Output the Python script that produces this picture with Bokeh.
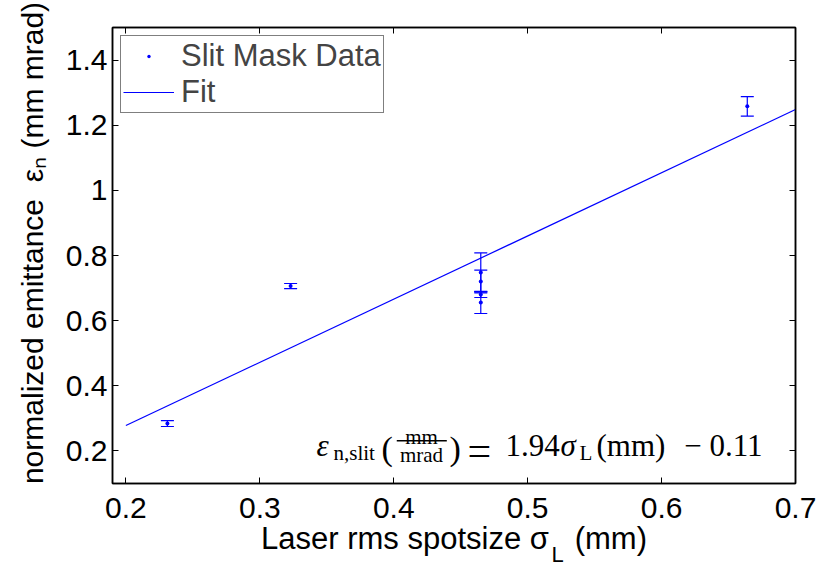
from bokeh.plotting import figure
from bokeh.models import (ColumnDataSource, Whisker, TeeHead, Label, BoxAnnotation,
                          LinearAxis, FixedTicker, Range1d, Legend, LegendItem)
from bokeh.embed import file_html
from bokeh.resources import INLINE

# ---- data ----
spot_size = [0.231, 0.323, 0.465, 0.465, 0.465, 0.465, 0.664]
emittance = [0.284, 0.706, 0.748, 0.720, 0.680, 0.656, 1.258]
emit_err = [0.009, 0.008, 0.060, 0.035, 0.009, 0.034, 0.030]

fit_x = [0.2, 0.7]
fit_y = [0.278, 1.248]

x_ticks = [0.2, 0.3, 0.4, 0.5, 0.6, 0.7]
x_tick_labels = ["0.2", "0.3", "0.4", "0.5", "0.6", "0.7"]
y_ticks = [0.2, 0.4, 0.6, 0.8, 1.0, 1.2, 1.4]
y_tick_labels = ["0.2", "0.4", "0.6", "0.8", "1", "1.2", "1.4"]

W, H = 818, 565
FL, FR, FT, FB = 112, 795, 27, 483   # frame edges in canvas px

SANS = "Liberation Sans"
SERIF = "Liberation Serif"
BLUE = "#0000ff"
NB = "\u00a0"

p = figure(width=W, height=H, output_backend="svg", toolbar_location=None,
           x_range=Range1d(0.19, 0.7), y_range=Range1d(0.1, 1.5),
           min_border_left=FL, min_border_right=W - FR,
           min_border_top=FT, min_border_bottom=H - FB)
p.background_fill_color = "white"
p.border_fill_color = "white"
p.outline_line_color = "black"
p.outline_line_width = 1.5
p.grid.visible = False

src = ColumnDataSource(dict(
    x=spot_size, y=emittance,
    upper=[v + e for v, e in zip(emittance, emit_err)],
    lower=[v - e for v, e in zip(emittance, emit_err)],
))

fit_r = p.line(fit_x, fit_y, line_color=BLUE, line_width=1.2)
wh = Whisker(source=src, base="x", upper="upper", lower="lower", dimension="height",
             line_color=BLUE, line_width=1.2,
             upper_head=TeeHead(size=13, line_color=BLUE, line_width=1.2),
             lower_head=TeeHead(size=13, line_color=BLUE, line_width=1.2))
p.add_layout(wh)
pts = p.scatter("x", "y", source=src, size=16, marker="dot", color=BLUE)


def style_axis(ax, ticks, labels, show_labels=True):
    ax.ticker = FixedTicker(ticks=ticks)
    ax.major_tick_in = 6
    ax.major_tick_out = 0
    ax.minor_tick_in = 0
    ax.minor_tick_out = 0
    ax.axis_line_color = "black"
    ax.axis_line_width = 1.5
    ax.major_tick_line_color = "black"
    ax.major_tick_line_width = 1
    ax.major_label_text_font = SANS
    if show_labels:
        ax.major_label_overrides = {t: l for t, l in zip(ticks, labels)}
        ax.major_label_text_font_size = "30px"
        ax.major_label_text_color = "black"
    else:
        ax.major_label_overrides = {t: "" for t in ticks}
        ax.major_label_text_font_size = "1px"
        ax.major_label_text_color = None
        ax.major_label_standoff = 0
    ax.axis_label_text_font = SANS
    ax.axis_label_text_font_style = "normal"
    ax.axis_label_text_color = "black"
    ax.axis_label_text_font_size = "30px"


style_axis(p.xaxis[0], x_ticks, x_tick_labels)
p.xaxis[0].major_label_standoff = 14
p.xaxis[0].axis_label = "Laser rms spotsize σ" + NB * 3 + "(mm)"
p.xaxis[0].axis_label_text_font_size = "31px"
p.xaxis[0].axis_label_standoff = 0

style_axis(p.yaxis[0], y_ticks, y_tick_labels)
p.yaxis[0].major_label_standoff = 5
p.yaxis[0].axis_label = NB * 3 + "normalized emittance" + NB + " εₙ (mm mrad)"
p.yaxis[0].axis_label_standoff = 14

top_ax = LinearAxis()
style_axis(top_ax, x_ticks, x_tick_labels, show_labels=False)
p.add_layout(top_ax, "above")
right_ax = LinearAxis()
style_axis(right_ax, y_ticks, y_tick_labels, show_labels=False)
p.add_layout(right_ax, "right")

legend = Legend(items=[LegendItem(label="Slit Mask Data", renderers=[pts]),
                       LegendItem(label="Fit", renderers=[fit_r])],
                location="top_left", margin=8, padding=2, spacing=0,
                glyph_width=51, glyph_height=34, label_height=34, label_standoff=7,
                label_text_font=SANS, label_text_font_size="31px",
                border_line_color="black", border_line_width=1.2,
                background_fill_color="white", background_fill_alpha=1.0)
p.add_layout(legend)

X0, Y0 = 0.19, 0.1   # frame's lower-left corner (data) used as text anchor


def txt(X, Y, text, size, font=SANS, align="left", style="normal", place="center"):
    lab = Label(x=X0, y=Y0, x_offset=X - FL, y_offset=FB - Y,
                text=text, text_font=font, text_font_size=f"{size}px",
                text_font_style=style, text_align=align,
                text_baseline="alphabetic", text_color="black")
    if place == "center":
        p.add_layout(lab)
    else:
        p.add_layout(lab, place)


# subscript L of the x-axis label (sits in the top panel so it is not clipped)
txt(551, 554, "L", 22, place="above")

# equation annotation
txt(316, 445, "ε", 31, font=SERIF, style="italic")
txt(333, 452, "n,slit", 21, font=SERIF)
txt(381, 448, "(", 34, font=SERIF)
txt(421, 436, "mm", 21, font=SERIF, align="center")
txt(421, 454, "mrad", 21, font=SERIF, align="center")
txt(449, 448, ")", 34, font=SERIF)
txt(467, 450, "=", 42, font=SERIF)
txt(505, 445, "1.94", 31, font=SERIF)
txt(560, 445, "σ", 31, font=SERIF, style="italic")
txt(579, 452, "L", 21, font=SERIF)
txt(596, 445, "(mm)", 31, font=SERIF)
txt(762, 445, "− 0.11", 31, font=SERIF, align="right")

# fraction bar
p.add_layout(BoxAnnotation(left=0.19 + (396 - FL) / 1338.0, right=0.19 + (446 - FL) / 1338.0,
                           bottom=0.1 + (FB - 441) / 325.7, top=0.1 + (FB - 439.5) / 325.7,
                           fill_color="black", fill_alpha=1.0, line_color=None))

open("out.html", "w").write(file_html(p, INLINE))
